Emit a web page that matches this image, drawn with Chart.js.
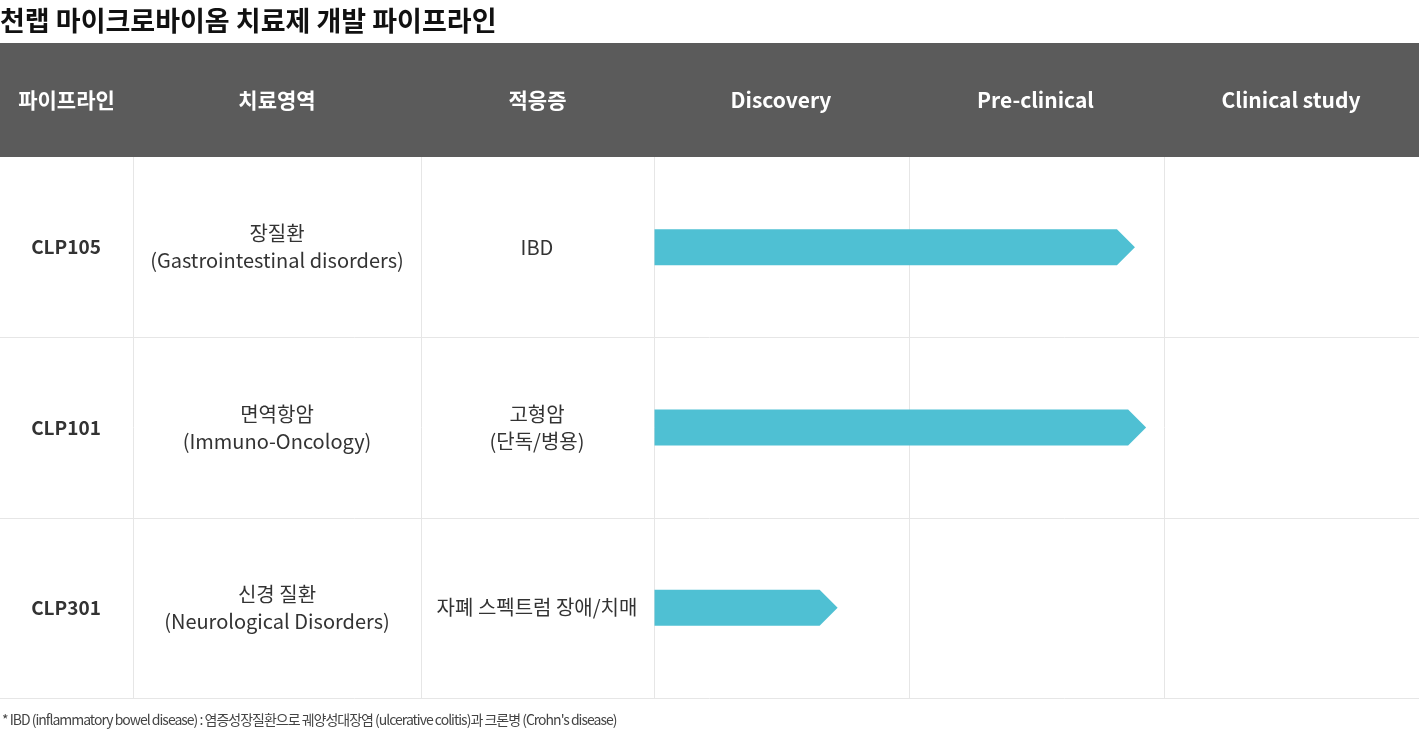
<!DOCTYPE html>
<html><head><meta charset="utf-8">
<script src="https://cdn.jsdelivr.net/npm/chart.js@4"></script>
<style>html,body{margin:0;padding:0;background:#fff}#w{width:1419px;height:754px;position:relative}</style>
</head><body><div id="w"><canvas id="c"></canvas></div>
<script>
const title = "천랩 마이크로바이옴 치료제 개발 파이프라인";
const headers = ["파이프라인","치료영역","적응증","Discovery","Pre-clinical","Clinical study"];
const pipelines = ["CLP105","CLP101","CLP301"];
const areas = [["장질환","(Gastrointestinal disorders)"],["면역항암","(Immuno-Oncology)"],["신경 질환","(Neurological Disorders)"]];
const indications = [["IBD"],["고형암","(단독/병용)"],["자폐 스펙트럼 장애/치매"]];
const progress = [1.886, 1.93, 0.72];
const footnote = "* IBD (inflammatory bowel disease) : 염증성장질환으로 궤양성대장염 (ulcerative colitis)과 크론병 (Crohn's disease)";
const KR = '"Noto Sans CJK KR","Noto Sans",sans-serif';
const colX = [0,133,421,654,908,1163,1419];

const deco = {
  id:'deco',
  beforeDraw(ch){
    const c=ch.ctx, a=ch.chartArea, ys=ch.scales.y;
    c.save();
    c.fillStyle='#111'; c.font='bold 27px '+KR; c.textBaseline='middle'; c.textAlign='left';
    c.fillText(title,0,21);
    c.fillStyle='#5b5b5b'; c.fillRect(0,43,1419,a.top-43);
    c.fillStyle='#fff'; c.font='bold 21px '+KR; c.textAlign='center';
    headers.forEach((h,i)=>c.fillText(h,(colX[i]+colX[i+1])/2,(43+a.top)/2));
    const rh=(a.bottom-a.top)/pipelines.length;
    c.strokeStyle='#e6e6e6'; c.lineWidth=1;
    for(let i=1;i<=pipelines.length;i++){const y=Math.round(a.top+i*rh)+0.5;c.beginPath();c.moveTo(0,y);c.lineTo(1419,y);c.stroke();}
    [133,421].forEach(x=>{c.beginPath();c.moveTo(x+0.5,a.top);c.lineTo(x+0.5,a.bottom);c.stroke();});
    pipelines.forEach((p,i)=>{
      const y=ys.getPixelForValue(i);
      c.fillStyle='#333'; c.font='bold 19px '+KR; c.fillText(p,66,y);
      c.font='20px '+KR;
      const draw=(lines,x)=>{const n=lines.length;lines.forEach((t,k)=>c.fillText(t,x,y+(k-(n-1)/2)*27));};
      draw(areas[i],277); draw(indications[i],537);
    });
    c.fillStyle='#444'; c.font='14px '+KR; c.textAlign='left';
    try{c.letterSpacing='-1px';}catch(e){}
    c.fillText(footnote,2,720);
    c.restore();
  },
  afterDatasetsDraw(ch){
    const c=ch.ctx; c.save(); c.fillStyle='#4fc0d3';
    ch.getDatasetMeta(0).data.forEach(b=>{
      const h=b.height/2, tip=18;
      c.beginPath(); c.moveTo(b.base,b.y-h); c.lineTo(b.x-tip,b.y-h); c.lineTo(b.x,b.y);
      c.lineTo(b.x-tip,b.y+h); c.lineTo(b.base,b.y+h); c.closePath(); c.fill();
    });
    c.restore();
  }
};
new Chart(document.getElementById('c'),{
  type:'bar',
  data:{labels:pipelines,datasets:[{data:progress,backgroundColor:'rgba(0,0,0,0)',barThickness:36}]},
  options:{indexAxis:'y',responsive:true,maintainAspectRatio:false,animation:false,
    layout:{padding:{left:654,top:157,bottom:56,right:0}},
    plugins:{legend:{display:false},tooltip:{enabled:false}},
    scales:{
      x:{min:0,max:3,ticks:{display:false,stepSize:1},grid:{color:'#e6e6e6',drawTicks:false},border:{display:false}},
      y:{display:false}
    }},
  plugins:[deco]
});
</script></body></html>
